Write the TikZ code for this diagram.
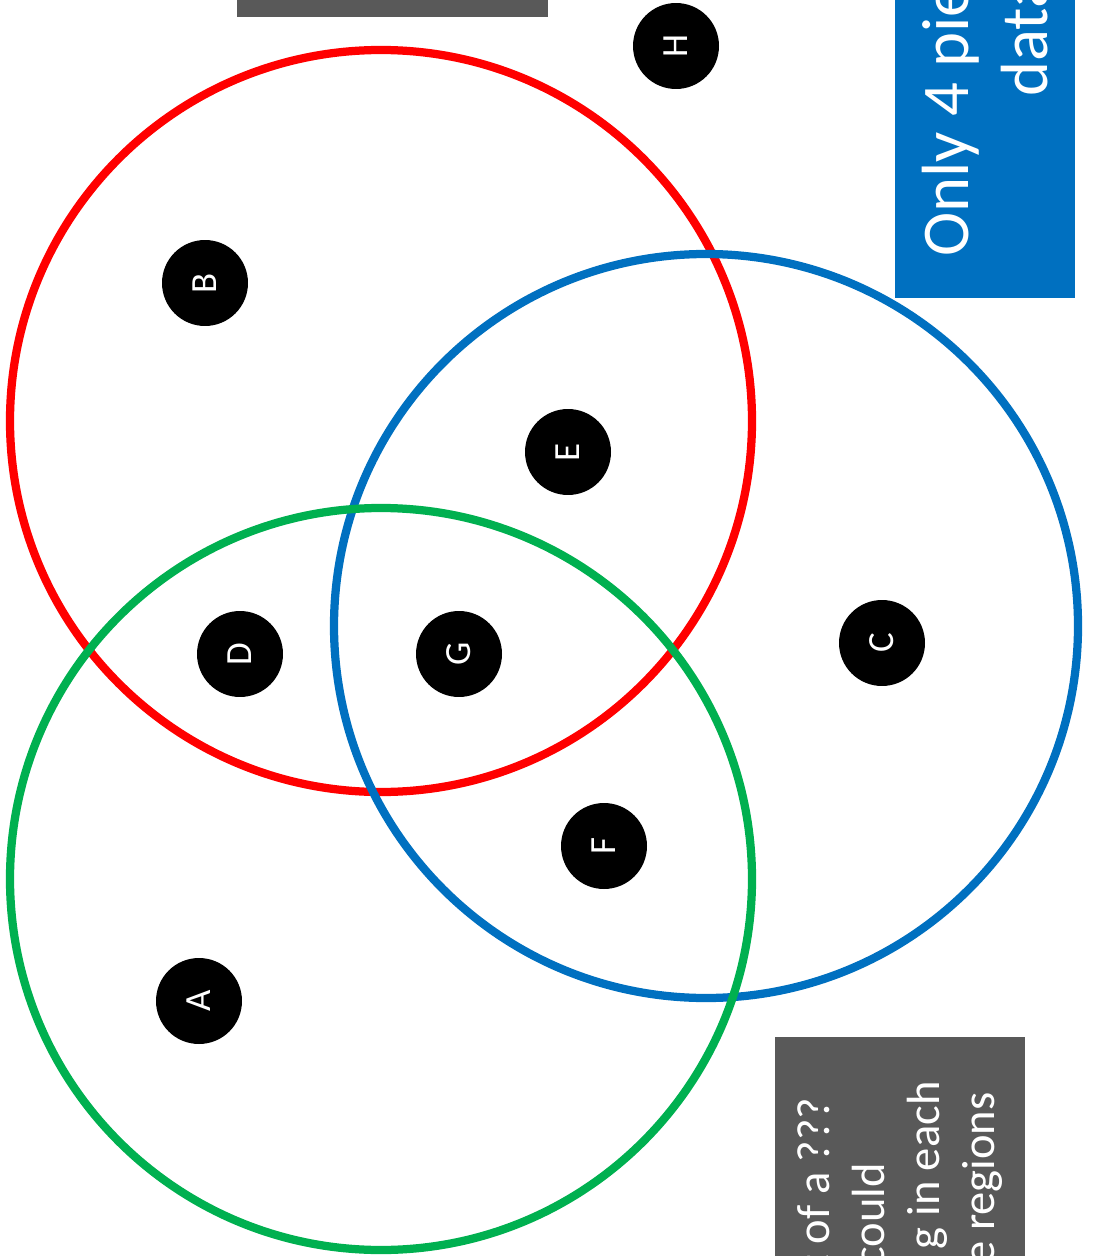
\documentclass[tikz,border=0pt]{standalone}
\usepackage{fontspec}
\setmainfont{Carlito}
\definecolor{setred}{HTML}{FF0000}
\definecolor{setblue}{HTML}{0070C0}
\definecolor{setgreen}{HTML}{00B050}
\definecolor{boxgray}{HTML}{595959}
\begin{document}
\begin{tikzpicture}[x=0.02cm,y=-0.02cm,
  elem/.style={circle,fill=black,minimum size=1.72cm,inner sep=0pt,text=white,rotate=90,font=\fontsize{21}{21}\selectfont},
  ring/.style={line width=0.165cm},
  note/.style={rotate=90,text=white,inner sep=0pt}]
\useasboundingbox (0,0) rectangle (1092,1256);
\clip (0,0) rectangle (1092,1256);
% boxes at the edges
\fill[boxgray] (237,-20) rectangle (548,17);
\fill[setblue] (895,-20) rectangle (1075,298);
\node[note,anchor=base west,font=\fontsize{38}{45}\selectfont] (only) at (968,257) {Only 4 pie};
\node[note,anchor=base west,font=\fontsize{38}{45}\selectfont] (data) at (1047,97) {data};
\fill[boxgray] (775,1037) rectangle (1025,1280);
\node[note,anchor=base east,font=\fontsize{26.5}{31}\selectfont] (lineA) at (829,1097) {t of a ???};
\node[note,anchor=base east,font=\fontsize{26.5}{31}\selectfont] (lineB) at (884,1163) {could};
\node[note,anchor=base east,font=\fontsize{26.5}{31}\selectfont] (lineC) at (939,1081) {g in each};
\node[note,anchor=base east,font=\fontsize{26.5}{31}\selectfont] (lineD) at (994,1092) {e regions};
% the three sets
\draw[ring,setred] (381,421) circle (371);
\draw[ring,setblue] (706,626) circle (372);
\draw[ring,setgreen] (381,879) circle (371);
% elements
\node[elem] (H) at (676,46) {H};
\node[elem] (B) at (205,283) {B};
\node[elem] (E) at (568,452) {E};
\node[elem] (D) at (240,654) {D};
\node[elem] (G) at (459,654) {G};
\node[elem] (C) at (882,643) {C};
\node[elem] (F) at (604,846) {F};
\node[elem] (A) at (199,1001) {A};
\end{tikzpicture}
\end{document}
